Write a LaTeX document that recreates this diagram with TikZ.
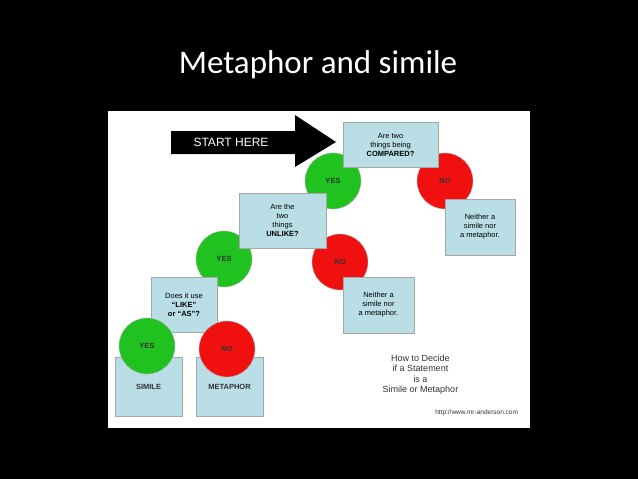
\documentclass[tikz,border=0pt]{standalone}
\usepackage{fontspec}
\setmainfont{Liberation Sans}
\newfontfamily\titlefont{Carlito}
\usetikzlibrary{positioning}

\definecolor{boxblue}{HTML}{B9DEE6}
\definecolor{yesgreen}{HTML}{1FC21F}
\definecolor{nored}{HTML}{F01010}

\begin{document}
\begin{tikzpicture}[x=1pt,y=-1pt,
	qbox/.style={draw=gray!70,fill=boxblue,minimum width=#1,align=center,font=\fontsize{7.5}{9}\selectfont,inner sep=1pt},
	yes/.style={circle,draw=gray!60,fill=yesgreen,minimum size=56pt,inner sep=0pt,font=\bfseries\fontsize{7.5}{9}\selectfont,text=black!80},
	no/.style={circle,draw=gray!60,fill=nored,minimum size=56pt,inner sep=0pt,font=\bfseries\fontsize{7.5}{9}\selectfont,text=black!80}]
	
	\fill[black] (0,0) rectangle (638,479);
	\useasboundingbox (0,0) rectangle (638,479);
	\node (title) [text=white,font=\titlefont\fontsize{33}{36}\selectfont] at (318,65) {Metaphor and simile};
	\fill[white] (108,111) rectangle (530,428);
	
	% start arrow
	\fill[black] (171,131) -- (295,131) -- (295,115) -- (336,142) -- (295,167) -- (295,154) -- (171,154) -- cycle;
	\node (start) [text=white,font=\fontsize{12}{14}\selectfont] at (231,142) {START HERE};
	
	% circles
	\node (yes1) [yes] at (333,181) {YES};
	\node (no1) [no] at (445,181) {NO};
	\node (yes2) [yes] at (224,259) {YES};
	\node (no2) [no] at (340,262) {NO};
	
	% questions
	\node (q1) [qbox=95pt,minimum height=45pt] at (390.5,144.5) {Are two\\things being\\\textbf{COMPARED?}};
	\node (q2) [qbox=87pt,minimum height=55pt] at (282.5,220.5) {Are the\\two\\things\\\textbf{UNLIKE?}};
	\node (q3) [qbox=66pt,minimum height=55pt] at (184,304.5) {Does it use\\\textbf{``LIKE''}\\\textbf{or ``AS''?}};
	\node (neither1) [qbox=70pt,minimum height=56pt] at (480,227) {Neither a\\simile nor\\a metaphor.};
	\node (neither2) [qbox=71pt,minimum height=56pt] at (378.5,305) {Neither a\\simile nor\\a metaphor.};
	
	% answers
	\node (simile) [qbox=67pt,minimum height=59pt] at (148.5,386.5) {};
	\node (metaphor) [qbox=67pt,minimum height=59pt] at (229.5,386.5) {};
	\node (yes3) [yes] at (147,346) {YES};
	\node (no3) [no] at (227,349) {NO};
	\node [font=\bfseries\fontsize{7.5}{9}\selectfont,text=black!80] at (simile.center) {SIMILE};
	\node [font=\bfseries\fontsize{7.5}{9}\selectfont,text=black!80] at (metaphor.center) {METAPHOR};
	
	% legend
	\node (legend) [draw=gray,double=white,double distance=2pt,minimum width=197pt,minimum height=63pt,align=center,font=\fontsize{9}{10.5}\selectfont,text=black!80] at (420.5,374.5) {How to Decide\\if a Statement\\is a\\Simile or Metaphor};
	\node (url) [below left=2pt and 0pt of legend.south east,font=\fontsize{6.5}{8}\selectfont,text=black!80,inner sep=1pt] {http://www.mr-anderson.com};
\end{tikzpicture}
\end{document}
